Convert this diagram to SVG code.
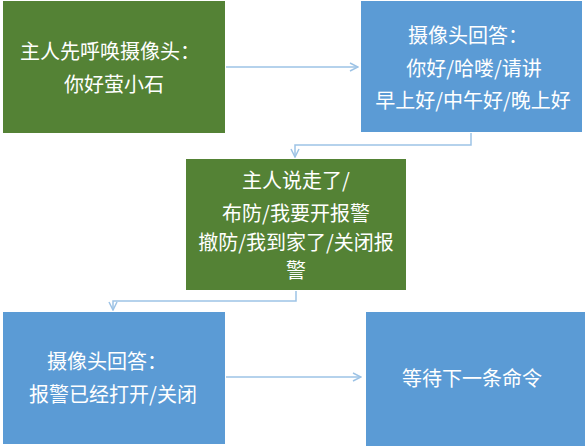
<svg xmlns="http://www.w3.org/2000/svg" width="585" height="446" viewBox="0 0 585 446">
<defs>
<style>
.g{fill:#548235}
.b{fill:#5B9BD5}
.t{fill:#FFFFFF;font-family:"Microsoft YaHei","Noto Sans CJK SC","Liberation Sans",sans-serif;font-size:20px;text-anchor:middle;dominant-baseline:central}
.c{fill:none;stroke:#9DC3E6;stroke-width:1.5}
</style>
<marker id="ah" viewBox="0 0 10 10" refX="9" refY="5" markerWidth="10" markerHeight="10" markerUnits="userSpaceOnUse" orient="auto">
<path d="M1,1 L9,5 L1,9" fill="none" stroke="#9DC3E6" stroke-width="1.5"/>
</marker>
</defs>
<rect width="585" height="446" fill="#FFFFFF"/>
<g id="connectors">
<path class="c" d="M226,67 H358" marker-end="url(#ah)"/>
<path class="c" d="M471,133 V145 H295 V157" marker-end="url(#ah)"/>
<path class="c" d="M296,291 V301 H113 V310" marker-end="url(#ah)"/>
<path class="c" d="M226,377 H361" marker-end="url(#ah)"/>
</g>
<g id="n1">
<rect class="g" x="3" y="1" width="222" height="132"/>
<text class="t" x="110" y="50">主人先呼唤摄像头：</text>
<text class="t" x="114" y="83">你好萤小石</text>
</g>
<g id="n2">
<rect class="b" x="361" y="1" width="221" height="131"/>
<text class="t" x="468" y="34">摄像头回答：</text>
<text class="t" x="474" y="67">你好/哈喽/请讲</text>
<text class="t" x="473" y="99">早上好/中午好/晚上好</text>
</g>
<g id="n3">
<rect class="g" x="186" y="159" width="220" height="131"/>
<text class="t" x="296" y="179">主人说走了/</text>
<text class="t" x="296" y="212">布防/我要开报警</text>
<text class="t" x="296" y="241">撤防/我到家了/关闭报</text>
<text class="t" x="296" y="269">警</text>
</g>
<g id="n4">
<rect class="b" x="3" y="312" width="222" height="132"/>
<text class="t" x="107" y="360">摄像头回答：</text>
<text class="t" x="113" y="393">报警已经打开/关闭</text>
</g>
<g id="n5">
<rect class="b" x="366" y="312" width="219" height="134"/>
<text class="t" x="472" y="377">等待下一条命令</text>
</g>
</svg>
